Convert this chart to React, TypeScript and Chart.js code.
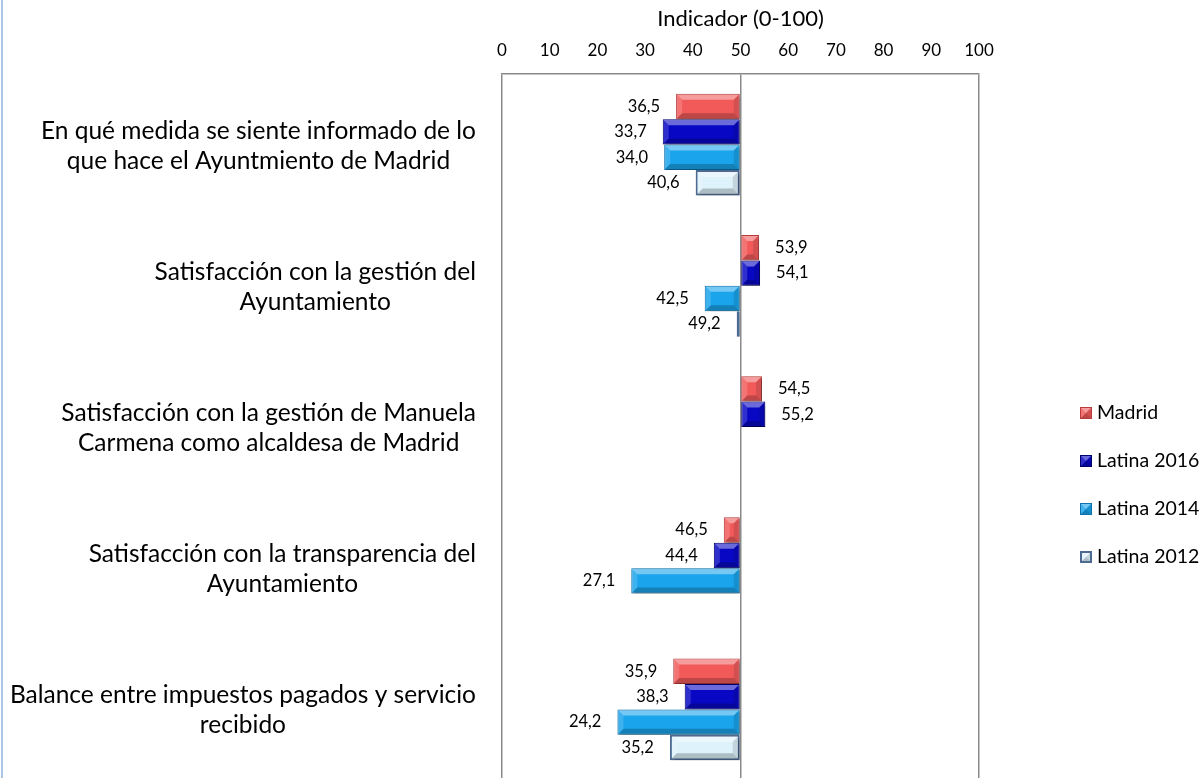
import React, { useEffect, useRef } from "react";
import { Chart, registerables } from "chart.js";

Chart.register(...registerables);

// ---------- data ----------
const categories: string[][] = [
  ["En qué medida se siente informado de lo", "que hace el Ayuntmiento de Madrid"],
  ["Satisfacción con la gestión del", "Ayuntamiento"],
  ["Satisfacción con la gestión de Manuela", "Carmena como alcaldesa de Madrid"],
  ["Satisfacción con la transparencia del", "Ayuntamiento"],
  ["Balance entre impuestos pagados y servicio", "recibido"],
];
const madrid: (number | null)[] = [36.5, 53.9, 54.5, 46.5, 35.9];
const latina2016: (number | null)[] = [33.7, 54.1, 55.2, 44.4, 38.3];
const latina2014: (number | null)[] = [34.0, 42.5, null, 27.1, 24.2];
const latina2012: (number | null)[] = [40.6, 49.2, null, null, 35.2];
const seriesNames = ["Madrid", "Latina 2016", "Latina 2014", "Latina 2012"];
const axisTitle = "Indicador (0-100)";
const axisMin = 0;
const axisMax = 100;
const axisStep = 10;
const baseline = 50;

// ---------- styles ----------
const FONT = "Lato";
const fills = ["#f25a5a", "#0808c4", "#19a4ec", "#def2fc"];
const borders = ["#b83c3c", "#00006a", "#0e72ae", "#4c6a92"];
const borderWidths = [1, 1, 1, 2];

const fmt = (v: number) => v.toFixed(1).replace(".", ",");

function bevel(ctx: CanvasRenderingContext2D, l: number, t: number, r: number, b: number) {
  const d = Math.min(5, (r - l) / 2, (b - t) / 2);
  if (d <= 0) return;
  const poly = (pts: number[][], c: string) => {
    ctx.beginPath();
    ctx.moveTo(pts[0][0], pts[0][1]);
    for (let i = 1; i < pts.length; i++) ctx.lineTo(pts[i][0], pts[i][1]);
    ctx.closePath();
    ctx.fillStyle = c;
    ctx.fill();
  };
  poly([[l, t], [r, t], [r - d, t + d], [l + d, t + d]], "rgba(255,255,255,0.4)");
  poly([[l, t], [l + d, t + d], [l + d, b - d], [l, b]], "rgba(255,255,255,0.16)");
  poly([[l, b], [l + d, b - d], [r - d, b - d], [r, b]], "rgba(0,0,0,0.22)");
  poly([[r, t], [r, b], [r - d, b - d], [r - d, t + d]], "rgba(0,0,0,0.12)");
}

const framePlugin = {
  id: "frame",
  beforeDraw(chart: any) {
    const ctx = chart.ctx;
    ctx.save();
    ctx.fillStyle = "#ffffff";
    ctx.fillRect(0, 0, chart.width, chart.height);
    ctx.fillStyle = "#abc6e4";
    ctx.fillRect(1, 0, 2, chart.height);
    ctx.restore();
  },
};

const barDecorPlugin = {
  id: "barDecor",
  beforeDatasetsDraw(chart: any) {
    const ctx = chart.ctx;
    ctx.save();
    ctx.shadowColor = "rgba(0,0,0,0.35)";
    ctx.shadowOffsetX = 2;
    ctx.shadowOffsetY = 2;
    ctx.shadowBlur = 3;
  },
  afterDatasetsDraw(chart: any) {
    const ctx = chart.ctx;
    ctx.restore();
    const xs = chart.scales.x;
    ctx.save();
    chart.data.datasets.forEach((ds: any, di: number) => {
      const meta = chart.getDatasetMeta(di);
      meta.data.forEach((el: any, i: number) => {
        const v = ds.data[i];
        if (v === null || v === undefined) return;
        const p = el.getProps(["x", "y", "base", "height"], true);
        const bw = borderWidths[di];
        const l = Math.min(p.x, p.base) + bw;
        const r = Math.max(p.x, p.base) - bw;
        const t = p.y - p.height / 2 + bw;
        const b = p.y + p.height / 2 - bw;
        bevel(ctx, l, t, r, b);
      });
    });
    // data labels
    ctx.font = `16.5px ${FONT}`;
    ctx.fillStyle = "#000";
    ctx.textBaseline = "middle";
    chart.data.datasets.forEach((ds: any, di: number) => {
      const meta = chart.getDatasetMeta(di);
      meta.data.forEach((el: any, i: number) => {
        const v = ds.data[i];
        if (v === null || v === undefined) return;
        const px = xs.getPixelForValue(v);
        if (v < baseline) {
          ctx.textAlign = "right";
          ctx.fillText(fmt(v), px - 16, el.y);
        } else {
          ctx.textAlign = "left";
          ctx.fillText(fmt(v), px + 16, el.y);
        }
      });
    });
    ctx.restore();
  },
};

const categoryLabelPlugin = {
  id: "catLabels",
  afterDraw(chart: any) {
    const ctx = chart.ctx;
    const ys = chart.scales.y;
    const area = chart.chartArea;
    ctx.save();
    ctx.font = `24.5px ${FONT}`;
    ctx.fillStyle = "#000";
    ctx.textBaseline = "middle";
    ctx.textAlign = "center";
    const lh = 30;
    (chart.data.labels as string[][]).forEach((lines, i) => {
      const cy = ys.getPixelForValue(i) + 1;
      const maxW = Math.max(...lines.map((s) => ctx.measureText(s).width));
      const cx = area.left - 26 - maxW / 2;
      lines.forEach((s, j) => {
        ctx.fillText(s, cx, cy + (j - (lines.length - 1) / 2) * lh);
      });
    });
    ctx.restore();
  },
};

const legendPlugin = {
  id: "customLegend",
  afterDraw(chart: any) {
    const ctx = chart.ctx;
    const area = chart.chartArea;
    const x0 = area.right + 101;
    const y0 = 413;
    const step = 48;
    ctx.save();
    ctx.font = `19.5px ${FONT}`;
    ctx.textBaseline = "middle";
    ctx.textAlign = "left";
    chart.data.datasets.forEach((ds: any, i: number) => {
      const y = y0 + i * step;
      const s = 12;
      const bw = borderWidths[i];
      ctx.fillStyle = fills[i];
      ctx.fillRect(x0, y - s / 2, s, s);
      ctx.strokeStyle = borders[i];
      ctx.lineWidth = bw;
      ctx.strokeRect(x0 + bw / 2, y - s / 2 + bw / 2, s - bw, s - bw);
      bevel(ctx, x0 + bw, y - s / 2 + bw, x0 + s - bw, y + s / 2 - bw);
      ctx.fillStyle = "#000";
      ctx.fillText(ds.label, x0 + 17, y);
    });
    ctx.restore();
  },
};

export default function App() {
  const ref = useRef<HTMLCanvasElement | null>(null);

  useEffect(() => {
    if (!ref.current) return;
    const series = [madrid, latina2016, latina2014, latina2012];
    const chart = new Chart(ref.current, {
      type: "bar",
      data: {
        labels: categories as any,
        datasets: series.map((d, i) => ({
          label: seriesNames[i],
          data: d as any,
          base: baseline,
          backgroundColor: fills[i],
          borderColor: borders[i],
          borderWidth: borderWidths[i],
          borderSkipped: false,
          categoryPercentage: 0.72,
          barPercentage: 1.0,
        })),
      },
      options: {
        indexAxis: "y",
        responsive: false,
        animation: false,
        devicePixelRatio: 1,
        layout: { padding: { left: 502, right: 224, top: 0, bottom: 0 } },
        font: { family: FONT },
        plugins: {
          legend: { display: false },
          tooltip: { enabled: false },
        },
        scales: {
          x: {
            type: "linear",
            position: "top",
            min: axisMin,
            max: axisMax,
            ticks: {
              stepSize: axisStep,
              padding: 13,
              color: "#000",
              font: { family: FONT, size: 17 },
            },
            title: {
              display: true,
              text: axisTitle,
              color: "#000",
              font: { family: FONT, size: 22 },
              padding: { top: 6, bottom: 0 },
            },
            grid: {
              drawTicks: false,
              lineWidth: 1.5,
              color: (c: any) =>
                c.tick && (c.tick.value === axisMin || c.tick.value === baseline || c.tick.value === axisMax)
                  ? "#8a8a8a"
                  : "rgba(0,0,0,0)",
            },
            border: { display: true, color: "#8a8a8a", width: 1.5 },
            afterFit: (scale: any) => {
              scale.height = 74;
            },
          },
          y: {
            type: "category",
            display: false,
            offset: true,
          },
        },
      },
      plugins: [framePlugin, barDecorPlugin, categoryLabelPlugin, legendPlugin],
    } as any);
    return () => chart.destroy();
  }, []);

  return (
    <div
      style={{
        position: "fixed",
        left: 0,
        top: 0,
        width: 1203,
        height: 778,
        overflow: "hidden",
        background: "#fff",
      }}
    >
      <canvas ref={ref} width={1203} height={780} style={{ display: "block", width: 1203, height: 780 }} />
    </div>
  );
}
